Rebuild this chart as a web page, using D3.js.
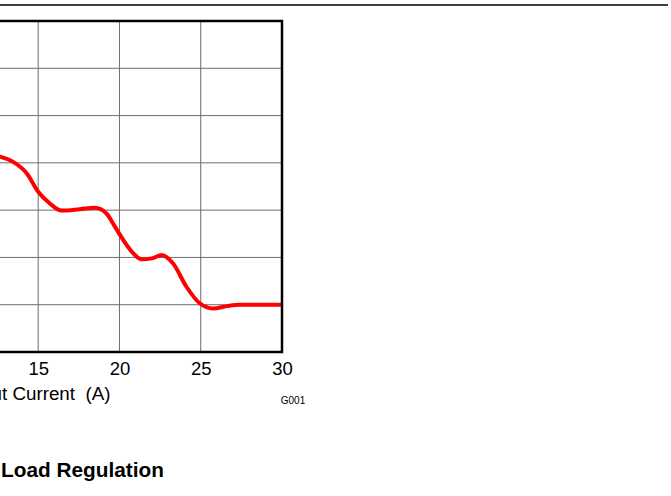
<!DOCTYPE html>
<head>
<meta charset="UTF-8">
<script src="https://d3js.org/d3.v7.min.js"></script>
<style>
  body { margin: 0; background: #fff; }
  svg { display: block; font-family: Arial, "Liberation Sans", sans-serif; }
</style>
</head>
<body>
<div id="chart"></div>
<script>
// load regulation curve, output current (A) vs output voltage (V)
const current = [0, 2, 4, 5.5, 7, 9, 10.5, 11.8, 12.64, 13.46, 14.29, 15, 15.72, 16.44, 17.56, 18.49, 19.2, 19.72, 20.23, 20.87, 21.36, 22.0, 22.59, 23.3, 24.12, 24.94, 25.76, 26.6, 27.4, 30];
const voltage = [1.2060, 1.2061, 1.2059, 1.2046, 1.2040, 1.2041, 1.2030, 1.20234, 1.20226, 1.20204, 1.20156, 1.20078, 1.20028, 1.19998, 1.20004, 1.2001, 1.19986, 1.1993, 1.19874, 1.19816, 1.19792, 1.19796, 1.1981, 1.19774, 1.19676, 1.19606, 1.19584, 1.19594, 1.1960, 1.1960];
const xTicks = [0, 5, 10, 15, 20, 25, 30];
const yTicks = [1.194, 1.196, 1.198, 1.200, 1.202, 1.204, 1.206, 1.208];

const width = 671, height = 496;

const svg = d3.select("#chart").append("svg")
  .attr("width", width)
  .attr("height", height);

// rule at top of page
svg.append("line")
  .attr("x1", 0).attr("x2", 668)
  .attr("y1", 5).attr("y2", 5)
  .attr("stroke", "#000")
  .attr("stroke-width", 1.5);

// plot area, left part sits off the page
const x = d3.scaleLinear().domain([0, 30]).range([-205.6, 282]);
const y = d3.scaleLinear().domain([1.194, 1.208]).range([352, 21]);

const grid = svg.append("g")
  .attr("stroke", "#6e6e6e")
  .attr("stroke-width", 1);

grid.selectAll(".vg").data(xTicks).join("line")
  .attr("x1", d => x(d)).attr("x2", d => x(d))
  .attr("y1", y.range()[0]).attr("y2", y.range()[1]);

grid.selectAll(".hg").data(yTicks).join("line")
  .attr("x1", x.range()[0]).attr("x2", x.range()[1])
  .attr("y1", d => y(d)).attr("y2", d => y(d));

const line = d3.line()
  .x((d, i) => x(current[i]))
  .y(d => y(d))
  .curve(d3.curveMonotoneX);

svg.append("path")
  .datum(voltage)
  .attr("fill", "none")
  .attr("stroke", "#ff0000")
  .attr("stroke-width", 4)
  .attr("stroke-linejoin", "round")
  .attr("d", line);

// frame
svg.append("rect")
  .attr("x", x.range()[0]).attr("y", y.range()[1])
  .attr("width", x.range()[1] - x.range()[0])
  .attr("height", y.range()[0] - y.range()[1])
  .attr("fill", "none")
  .attr("stroke", "#000")
  .attr("stroke-width", 2.5);

// x tick labels (only the visible ones)
svg.selectAll(".xt").data(xTicks.filter(d => x(d) > 0)).join("text")
  .attr("x", d => x(d) + 0.5)
  .attr("y", 375)
  .attr("text-anchor", "middle")
  .attr("font-size", 18.5)
  .text(d => d);

svg.append("text")
  .attr("x", 110.5)
  .attr("y", 400)
  .attr("text-anchor", "end")
  .attr("font-size", 18.8)
  .attr("xml:space", "preserve")
  .text("Output Current  (A)");

svg.append("text")
  .attr("x", 293)
  .attr("y", 404)
  .attr("text-anchor", "middle")
  .attr("font-size", 10)
  .text("G001");

svg.append("text")
  .attr("x", 1)
  .attr("y", 477)
  .attr("font-size", 20.8)
  .attr("font-weight", "bold")
  .text("Load Regulation");
</script>
</body>
</html>
